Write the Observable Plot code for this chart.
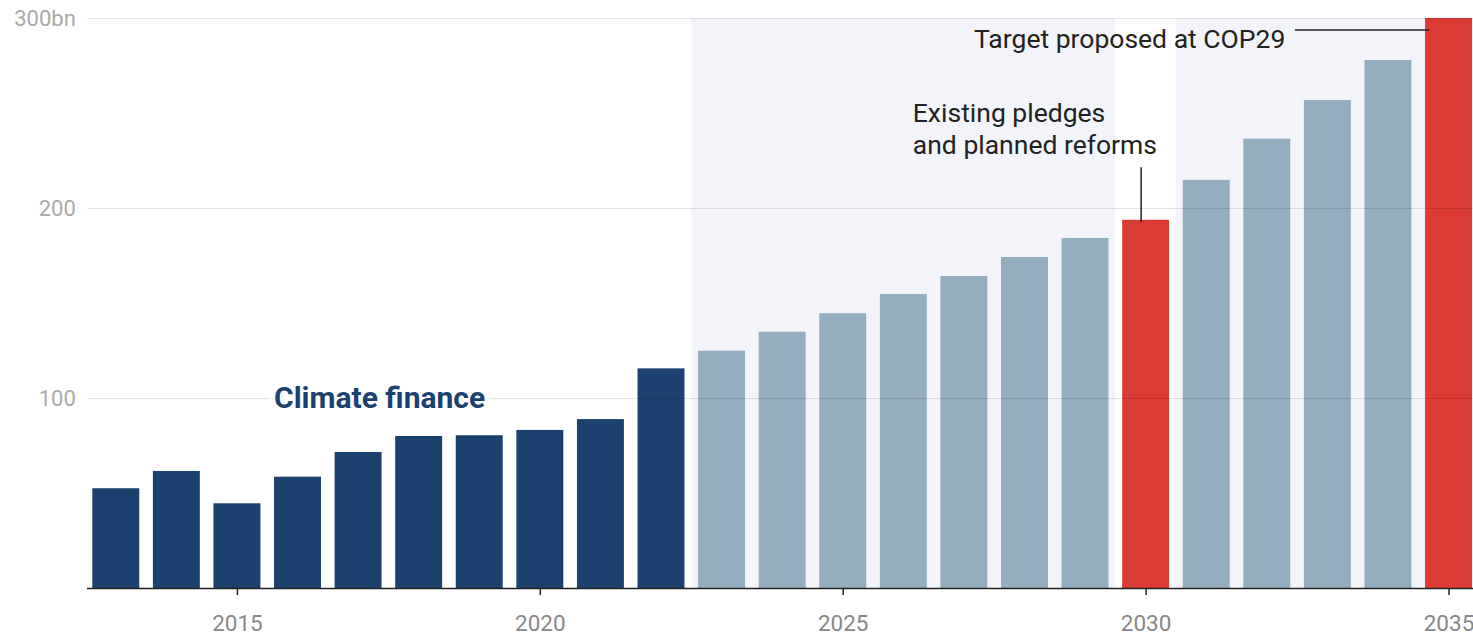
<!DOCTYPE html>
<html>
<head>
<meta charset="utf-8">
<script src="https://cdn.jsdelivr.net/npm/d3@7"></script>
<script src="https://cdn.jsdelivr.net/npm/@observablehq/plot@0.6"></script>
<style>
  html, body { margin: 0; padding: 0; background: #fff; }
  #chart svg { display: block; }
</style>
</head>
<body>
<div id="chart"></div>
<script>
const years = [2013, 2014, 2015, 2016, 2017, 2018, 2019, 2020, 2021, 2022, 2023, 2024,
               2025, 2026, 2027, 2028, 2029, 2030, 2031, 2032, 2033, 2034, 2035];
const values = [52.5, 61.6, 44.6, 58.6, 71.6, 80.0, 80.4, 83.2, 88.9, 115.6, 124.9, 134.9,
                144.6, 154.7, 164.2, 174.2, 184.2, 193.8, 214.8, 236.5, 256.8, 277.9, 300];
const types = ["Actual", "Actual", "Actual", "Actual", "Actual", "Actual", "Actual", "Actual",
               "Actual", "Actual", "Projected", "Projected", "Projected", "Projected", "Projected",
               "Projected", "Projected", "Target", "Projected", "Projected", "Projected", "Projected", "Target"];
const typeNames = ["Actual", "Projected", "Target"];
const typeColors = ["#1b426e", "#94adbf", "#da3b33"];
const shadedYears = [2023, 2024, 2025, 2026, 2027, 2028, 2029, 2031, 2032, 2033, 2034, 2035];
const gridTicks = [100, 200, 300];
const xTicks = [2015, 2020, 2025, 2030, 2035];
const seriesLabel = "Climate finance";
const pledgeLabel = "Existing pledges\nand planned reforms";
const targetLabel = "Target proposed at COP29";

const data = years.map((year, i) => ({year, value: values[i], type: types[i]}));

const chart = Plot.plot({
  width: 1473,
  height: 635,
  marginTop: 18,
  marginBottom: 47,
  marginLeft: 92.3,
  marginRight: 1,
  style: {fontFamily: "Roboto, 'Noto Sans', sans-serif", background: "#fff"},
  x: {type: "band", domain: years, paddingInner: 0.225, paddingOuter: 0, round: false},
  y: {domain: [0, 300]},
  color: {domain: typeNames, range: typeColors},
  marks: [
    Plot.barY(shadedYears, {x: d => d, y1: () => 0, y2: () => 300, fill: "#f2f4f9", insetLeft: -6.8, insetRight: -6.8}),
    Plot.barY(data, {x: "year", y: "value", fill: "type"}),
    Plot.ruleY(gridTicks, {stroke: "#000", strokeOpacity: 0.1, strokeWidth: 1.2, insetLeft: -5.3, insetRight: -1}),
    Plot.ruleY([0], {stroke: "#222", strokeWidth: 1.5, insetLeft: -5.3, insetRight: -1}),
    Plot.axisY(gridTicks, {
      tickSize: 0, tickPadding: 17, fontSize: 22, fill: "#aaa",
      tickFormat: d => d === 300 ? "300bn" : String(d), label: null
    }),
    Plot.axisX(xTicks, {
      tickSize: 7, tickPadding: 20, fontSize: 22.5, fill: "#888", stroke: "#222", strokeWidth: 1.5,
      tickFormat: d => String(d), label: null
    }),
    Plot.text([seriesLabel], {
      x: () => 2017, y: () => 100, dx: 21, text: d => d,
      fill: typeColors[0], fontWeight: 700, fontSize: 30,
      stroke: "#fff", strokeWidth: 10, textAnchor: "middle", lineAnchor: "middle"
    }),
    Plot.text([pledgeLabel], {
      x: () => 2026, y: () => 242.5, dx: 9, text: d => d,
      fill: "#222", fontSize: 26.5, textAnchor: "start", lineAnchor: "middle", lineHeight: 1.2
    }),
    Plot.ruleX([2030], {y1: () => 192.5, y2: () => 221.5, dx: -5, stroke: "#222", strokeWidth: 1.5}),
    Plot.text([targetLabel], {
      x: () => 2032, y: () => 288.8, dx: 18, text: d => d,
      fill: "#222", fontSize: 26.5, textAnchor: "end", lineAnchor: "middle"
    }),
    Plot.ruleY([294], {x1: () => 2033, x2: () => 2034, insetLeft: -9, insetRight: -18, stroke: "#222", strokeWidth: 1.5})
  ]
});

document.getElementById("chart").appendChild(chart);
</script>
</body>
</html>
